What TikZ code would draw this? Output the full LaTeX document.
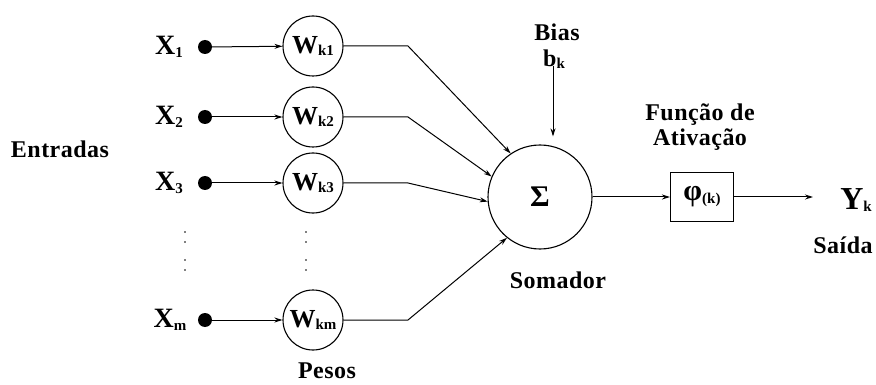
\documentclass[tikz,border=0pt]{standalone}
\usepackage{fontspec}
\setmainfont{Liberation Serif}
\usepackage{tikz}
\usetikzlibrary{positioning, arrows.meta, calc}

\newcommand{\lowidx}[1]{{\fontsize{15}{15}\selectfont\raisebox{-0.35ex}{#1}}}

\tikzset{
  txt/.style={font=\bfseries\fontsize{24}{25}\selectfont\addfontfeature{LetterSpace=2}, inner sep=0pt},
  xlbl/.style={font=\bfseries\fontsize{28}{28}\selectfont, inner sep=0pt},
  wcirc/.style={draw, circle, line width=1.1pt, minimum size=60pt, inner sep=0pt,
                font=\bfseries\fontsize{26}{26}\selectfont},
  inpt/.style={circle, fill=black, minimum size=14pt, inner sep=0pt},
  arr/.style={line width=1pt, -{Stealth[length=8pt, width=5pt]}},
}

\begin{document}
\begin{tikzpicture}[x=1pt, y=-1pt]
\useasboundingbox (0,0) rectangle (876,385);

\node[txt] (entr) at (60,149) {Entradas};

\node[xlbl] (x1) at (169,47) {X\lowidx{1}};
\node[xlbl] (x2) at (169,117) {X\lowidx{2}};
\node[xlbl] (x3) at (169,183) {X\lowidx{3}};
\node[xlbl] (xm) at (170,320) {X\lowidx{m}};

\node[inpt] (d1) at (205,47) {};
\node[inpt] (d2) at (205,117) {};
\node[inpt] (d3) at (205,183) {};
\node[inpt] (dm) at (205,320) {};

\node[wcirc] (w1) at (313,46) {W\lowidx{k1}};
\node[wcirc] (w2) at (313,117) {W\lowidx{k2}};
\node[wcirc] (w3) at (313,183) {W\lowidx{k3}};
\node[wcirc] (wm) at (313,320) {W\lowidx{km}};

\foreach \yy in {232,242,260,270} {
  \fill (185,\yy) circle (0.9pt);
  \fill (306,\yy) circle (0.9pt);
}

\node[txt] (pesos) at (327,371) {Pesos};

\node[draw, circle, line width=1.1pt, minimum size=104pt, inner sep=0pt,
      font=\bfseries\fontsize{30}{30}\selectfont] (sum) at (540,197) {Σ};
\node[txt] (somador) at (558,280) {Somador};

\node[txt] (bias) at (557,32) {Bias};
\node[txt] (bk) at (554,59) {b\lowidx{k}};

\node[draw, line width=1.1pt, minimum width=63pt, minimum height=49pt, inner sep=0pt,
      font=\bfseries\fontsize{30}{30}\selectfont] (phi) at (702,197) {φ\lowidx{(k)}};
\node[txt, align=center] (func) at (700,127) {Função de\\Ativação};

\coordinate (out) at (813,197);
\node[xlbl, font=\bfseries\fontsize{32}{32}\selectfont] (yk) at (856,200) {Y\lowidx{k}};
\node[txt] (saida) at (843,245) {Saída};

\coordinate (bend) at (408,0);
\coordinate (btop) at (553,66);

\draw[arr] (d1) -- (w1);
\draw[arr] (d2) -- (w2);
\draw[arr] (d3) -- (w3);
\draw[arr] (dm) -- (wm);

\draw[arr] (w1.east) -- (w1.east -| bend) -- (sum.124);
\draw[arr] (w2.east) -- (w2.east -| bend) -- (sum.157);
\draw[arr] (w3.east) -- (w3.east -| bend) -- (sum.185);
\draw[arr] (wm.east) -- (wm.east -| bend) -- (sum.231);

\draw[arr, shorten >=8pt] (btop) -- (btop |- sum.north);
\draw[arr] (sum.east) -- (phi.west);
\draw[arr] (phi.east) -- (out);
\end{tikzpicture}
\end{document}
